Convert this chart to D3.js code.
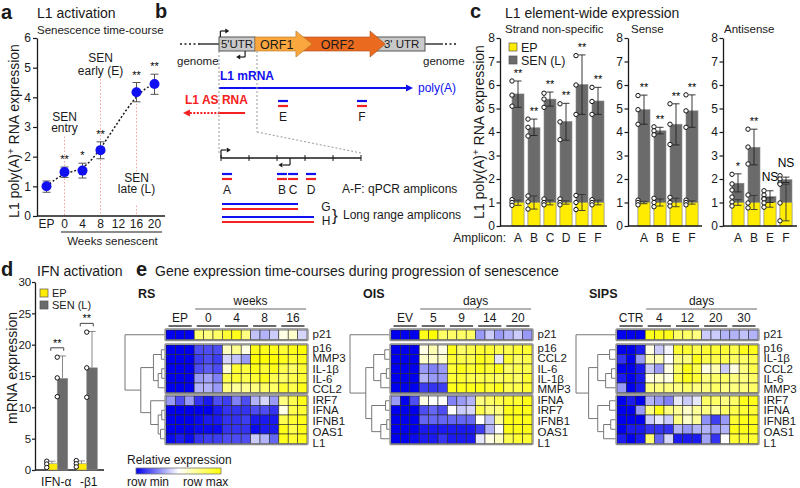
<!DOCTYPE html>
<html><head><meta charset="utf-8">
<script src="https://cdn.jsdelivr.net/npm/d3@7"></script>
<style>body{margin:0;background:#fff;}</style>
</head><body>
<script>
// ================= DATA =================
// Panel a
const aCats = ["EP","0","4","8","12","16","20"];
const aPointCats = ["EP","0","4","8","16","20"];
const aMeans = [1.00,1.48,1.53,2.22,4.17,4.45];
const aErrLo = [0.80,1.30,1.28,1.93,3.85,4.10];
const aErrHi = [1.18,1.65,1.78,2.50,4.50,4.78];
const aSig   = ["","**","*","**","**","**"];
const aYTicks = [0,1,2,3,4,5,6];

// Panel b (schematic units: bp along L1 / along 5'UTR)
const bQpcr = ["A","B","C","D"];
const bQpcrStart = [7,400,479,607];
const bQpcrEnd   = [79,471,550,679];
const bLong = ["G","H"];
const bLongEnd = [550,664];
const bElemAmp = ["E","F"];
const bElemAmpStart = [1720,4020];
const bElemAmpEnd = [2010,4310];
const bZoomTicks = [0,200,400,600,800,1000];

// Panel c
const cSubtitles = ["Strand non-specific","Sense","Antisense"];
const cCats = [["A","B","C","D","E","F"],["A","B","E","F"],["A","B","E","F"]];
const cSenMean = [[5.62,4.18,5.40,4.45,6.02,5.32],[4.95,4.05,4.33,4.90],[1.82,3.35,1.25,1.97]];
const cSenLo = [[5.05,3.85,5.10,3.65,4.75,4.75],[4.33,3.92,3.45,4.20],[1.45,2.60,1.00,1.85]];
const cSenHi = [[6.17,4.55,5.70,5.22,7.28,5.90],[5.57,4.20,5.20,5.58],[2.22,4.12,1.50,2.08]];
const cEpLo = [[0.88,0.72,0.90,0.93,0.66,0.90],[0.95,0.85,0.82,0.93],[0.88,0.70,0.80,0.22]];
const cEpHi = [[1.10,1.28,1.10,1.07,1.34,1.10],[1.05,1.15,1.18,1.07],[1.12,1.30,1.20,1.78]];
const cSenPts = [
  [[6.17,5.57,5.10],[4.55,4.20,3.83],[5.65,5.40,5.05],[5.20,4.43,3.67],[7.25,6.00,4.75],[5.90,5.30,4.75]],
  [[5.55,4.95,4.33],[4.22,4.05,3.88],[5.20,4.33,3.47],[5.58,4.90,4.20]],
  [[2.20,1.79,1.53],[4.12,3.36,2.64],[1.50,1.32,1.17],[2.14,2.00,1.83]]];
const cEpPts = [
  [[1.12,1.00,0.88],[1.28,1.03,0.72],[1.15,1.00,0.90],[1.15,1.00,0.90],[1.30,1.00,0.70],[1.12,1.00,0.90]],
  [[1.10,1.00,0.90],[1.18,1.00,0.82],[1.22,1.00,0.85],[1.10,1.00,0.90]],
  [[1.23,1.02,0.85],[1.32,0.98,0.77],[1.15,0.98,0.80],[1.78,0.98,0.22]]];
const cSig = [["**","**","**","**","**","**"],["**","**","**","**"],["*","**","NS","NS"]];
const cYTicks = [0,1,2,3,4,5,6,7,8];

// Panel d
const dGenes = ["IFN-α","-β1"];
const dEpMean = [1.0,1.0];
const dEpHi = [1.4,1.45];
const dSenMean = [14.6,16.3];
const dSenHi = [18.2,22.1];
const dEpPts = [[1.4,0.95,0.4],[1.5,1.0,0.5]];
const dSenPts = [[18.0,14.7,11.7],[22.0,16.3,11.6]];
const dSigLevel = [19.5,23.4];
const dYTicks = [0,5,10,15,20,25,30];

// Panel e
const eNames = ["RS","OIS","SIPS"];
const eUnits = ["weeks","days","days"];
const eGroups = [["EP","0","4","8","16"],["EV","5","9","14","20"],["CTR","4","12","20","30"]];
const eRows = [
  ["p21","p16","MMP3","IL-1β","IL-6","CCL2","IRF7","IFNA","IFNB1","OAS1","L1"],
  ["p21","p16","CCL2","IL-6","IL-1β","MMP3","IFNA","IRF7","IFNB1","OAS1","L1"],
  ["p21","p16","IL-1β","CCL2","IL-6","MMP3","IRF7","IFNA","IFNB1","OAS1","L1"]];
const eVals = [
 [ // RS
  [0,0,0, .78,.75,.8, .9,.95,.75, .38,.35,.4, .55,.6,.42],
  [0,0,0, .15,.15,.15, .62,.72,.55, .95,.95,.95, .9,.95,1],
  [0,0,0, .12,.15,.12, .42,.38,.3, 1,1,1, .95,.9,.95],
  [0,0,0, .15,.18,.15, .58,.9,.88, .95,.9,.95, .85,.8,.9],
  [0,0,0, .3,.32,.25, .85,.9,.85, .9,.95,.85, .8,.85,.9],
  [0,0,0, .35,.35,.3, .75,.7,.72, .75,.8,.8, .9,.85,.95],
  [.3,.15,.3, .1,.05,.15, .12,.25,.15, .35,.42,.3, .75,.85,.95],
  [0,0,0, 0,0,.05, .1,.1,.1, .15,.15,.1, .55,.85,.9],
  [0,0,0, .02,.05,.05, .1,.1,.12, .05,.05,.05, .85,.9,.95],
  [0,0,0, .02,.02,.02, .1,.1,.1, .02,.05,.05, .95,.85,.95],
  [.02,.05,.02, .1,.12,.12, .15,.15,.15, .4,.35,.2, .95,.9,.95]],
 [ // OIS
  [0,0,0, .95,1,.8, .8,.8,.8, .3,.4,.3, .35,.4,.3],
  [0,0,0, .55,.65,.55, .95,.8,.85, .9,.9,.85, .85,.9,.9],
  [0,0,0, .6,.6,.6, .9,.85,.85, .95,.9,.45, .9,.8,.85],
  [0,0,0, .3,.25,.3, .9,.95,.9, .95,.9,.95, .8,.85,.85],
  [0,0,0, .35,.3,.3, .9,.9,.85, .85,.85,.8, .85,.8,.9],
  [0,0,0, .12,.1,.12, .95,.95,.95, .95,.9,.95, .85,.85,.9],
  [.3,0,.15, .55,.5,.5, .25,.3,.35, .75,.8,.85, .9,.9,.95],
  [0,0,0, .15,.2,.15, .5,.4,.42, .85,.75,.75, .95,.95,.95],
  [0,0,0, .2,.2,.2, .2,.2,.2, .5,.38,.7, .95,.95,.95],
  [0,0,0, .05,.05,.05, .05,.05,.05, .12,.35,.5, .95,.95,.95],
  [0,0,.02, .05,.05,.1, .05,.05,.05, .45,.55,.62, .85,.9,.9]],
 [ // SIPS
  [0,0,0, .95,.95,.95, .8,.8,.75, .4,.4,.35, .35,.38,.35],
  [0,0,.05, .55,.4,.48, .9,.9,.85, .9,.9,.9, .85,.95,.95],
  [.1,0,.3, .65,.65,.5, .75,.75,.95, .85,.85,.85, .8,.8,.85],
  [0,0,.05, .4,.3,.55, .8,.95,.85, .55,.65,.4, .55,.75,.85],
  [.05,0,.05, .55,.6,.55, .85,.95,.9, .75,.8,.8, .75,.75,.8],
  [.3,0,.05, .75,.75,.75, .75,.8,.75, .75,.8,.75, .75,.75,.8],
  [0,.05,0, .35,.3,.25, .45,.4,.45, .8,.8,.75, .8,.95,.95],
  [0,0,.3, .75,.95,.75, .7,.6,.7, .75,.7,.8, .85,.9,.9],
  [0,0,0, .4,.45,.4, .75,.6,.7, .28,.12,.3, .9,.95,.95],
  [0,.05,.05, .1,.1,.1, .35,.3,.35, .35,.3,.35, .95,.95,.95],
  [.05,0,.05, .78,.2,.42, .05,.05,.05, .32,.1,.5, .9,.9,.9]]];
// dendrograms: [height, left, right]; leaves are gene names
const N = (h,a,b)=>({h:h,c:[a,b]});
const eTrees = [
  N(1,"p21",N(0.6, N(0.28,N(0.08,"p16","MMP3"),N(0.16,N(0.07,"IL-1β","IL-6"),"CCL2")),
                   N(0.35,"IRF7",N(0.16,N(0.07,"IFNA","IFNB1"),N(0.1,"OAS1","L1"))))),
  N(1,"p21",N(0.6, N(0.4,N(0.12,"p16","CCL2"),N(0.22,N(0.08,"IL-6","IL-1β"),"MMP3")),
                   N(0.45,N(0.1,"IFNA","IRF7"),N(0.22,N(0.07,"IFNB1","OAS1"),"L1")))),
  N(1,"p21",N(0.68,N(0.45,N(0.15,"p16","IL-1β"),N(0.25,N(0.1,"CCL2","IL-6"),"MMP3")),
                   N(0.45,N(0.15,"IRF7","IFNA"),N(0.3,N(0.12,"IFNB1","OAS1"),"L1"))))];

// ================= DRAW =================
const FONT = '"Liberation Sans", Arial, Helvetica, sans-serif';
const INK = "#1a1a1a";
const YEL = "#ffec00", GRY = "#6b6b6b", BLUE = "#1010f0", RED = "#f52020";
const svg = d3.select("body").append("svg").attr("width",800).attr("height",488)
  .style("font-family",FONT).style("display","block");
svg.append("rect").attr("width",800).attr("height",488).attr("fill","#fff");

function T(g,x,y,s,size,o={}){
  const t=g.append("text").attr("x",x).attr("y",y).text(s).attr("font-size",size)
    .attr("fill",o.fill||INK).attr("text-anchor",o.anchor||"start");
  if(o.weight) t.attr("font-weight",o.weight);
  return t;
}
function L(g,x1,y1,x2,y2,stroke,w,dash){
  const l=g.append("line").attr("x1",x1).attr("y1",y1).attr("x2",x2).attr("y2",y2)
    .attr("stroke",stroke||INK).attr("stroke-width",w||1);
  if(dash) l.attr("stroke-dasharray",dash);
  return l;
}
function yLabel(g,x,y,pre,sup,post,size){
  const t=g.append("text").attr("transform",`translate(${x},${y}) rotate(-90)`)
    .attr("text-anchor","middle").attr("font-size",size).attr("fill",INK);
  t.append("tspan").text(pre);
  if(sup){ t.append("tspan").text(sup).attr("dy",-5).attr("font-size",size*0.7);
           t.append("tspan").text(post).attr("dy",5); }
}
function errBar(g,x,y1,y2,hw,col,w){
  L(g,x,y1,x,y2,col,w); L(g,x-hw,y1,x+hw,y1,col,w); L(g,x-hw,y2,x+hw,y2,col,w);
}
function styleAxis(ax){
  ax.select(".domain").attr("stroke",INK).attr("stroke-width",1.3);
  ax.selectAll(".tick line").attr("stroke",INK).attr("stroke-width",1.2);
  ax.selectAll(".tick text").attr("fill",INK).style("font-family",FONT);
}
[["a",1,19],["b",155,18],["c",470,18],["d",1,276],["e",136,276]].forEach(p=>T(svg,p[1],p[2],p[0],20,{weight:"bold"}));

// ---------- Panel a ----------
{
const g = svg.append("g");
const x = d3.scalePoint().domain(aCats).range([46.5,154.5]);
const y = d3.scaleLinear().domain([0,6]).range([216,38]);
T(g,37,18,"L1 activation",14);
T(g,37,34,"Senescence time-course",11.5);
const pink="#f3a0a0";
L(g,x("0"),y(2.68),x("0"),y(0),pink,1,"1.5,2");
L(g,x("8"),y(4.62),x("8"),y(0),pink,1,"1.5,2");
L(g,x("16"),y(3.9),x("16"),y(1.5),pink,1,"1.5,2");
L(g,x("16"),y(0.35),x("16"),y(0),pink,1,"1.5,2");
T(g,x("0"),y(3.2),"SEN",12,{anchor:"middle"});
T(g,x("0"),y(2.83),"entry",12,{anchor:"middle"});
T(g,x("8"),y(5.2),"SEN",12,{anchor:"middle"});
T(g,x("8"),y(4.76),"early (E)",12,{anchor:"middle"});
T(g,x("16"),y(1.15),"SEN",12,{anchor:"middle"});
T(g,x("16"),y(0.78),"late (L)",12,{anchor:"middle"});
const ax = g.append("g").attr("transform","translate(37,0)")
  .call(d3.axisLeft(y).tickValues(aYTicks).tickSize(4).tickSizeOuter(0).tickPadding(2).tickFormat(d3.format("d")));
ax.selectAll("text").attr("font-size",12);
styleAxis(ax);
L(g,37,y(0),165,y(0),INK,1.3);
aCats.forEach(c=>T(g,x(c),228,c,12,{anchor:"middle"}));
L(g,61,232,162,232,INK,1.2);
T(g,112.5,245,"Weeks senescent",11.5,{anchor:"middle"});
yLabel(g,19,131,"L1 poly(A)","+"," RNA expression",14);
const pts = aPointCats.map((c,i)=>[x(c),y(aMeans[i])]);
g.append("path").attr("d",d3.line().curve(d3.curveBasis)(pts)).attr("fill","none")
  .attr("stroke",INK).attr("stroke-width",1.5).attr("stroke-dasharray","2,2");
aPointCats.forEach((c,i)=>{
  errBar(g,x(c),y(aErrLo[i]),y(aErrHi[i]),4,"#555",1);
  g.append("circle").attr("cx",x(c)).attr("cy",y(aMeans[i])).attr("r",5).attr("fill",BLUE);
  if(aSig[i]) T(g,x(c),y(aErrHi[i])-4,aSig[i],11,{anchor:"middle",fill:"#000"});
});
}

// ---------- Panel b ----------
{
const g = svg.append("g");
const el = d3.scaleLinear().domain([0,6000]).range([219,425]);
const zm = d3.scaleLinear().domain([0,1000]).range([221,361]);
const gy = 44;
function arrowPoly(x0,hx,tip,cy,bh,hh){
  return [[x0,cy-bh],[hx,cy-bh],[hx,cy-hh],[tip,cy],[hx,cy+hh],[hx,cy+bh],[x0,cy+bh]].map(p=>p.join(",")).join(" ");
}
function head(x,y,dir,col,len,hw){
  g.append("polygon").attr("points",[[x,y],[x-dir*len,y-hw],[x-dir*len,y+hw]].map(p=>p.join(",")).join(" ")).attr("fill",col);
}
L(g,180,gy,200,gy,INK,1.3,"2,2.5"); L(g,200,gy,el(0),gy,INK,1.3);
L(g,el(6000),gy,443,gy,INK,1.3); L(g,445,gy,456,gy,INK,1.3,"2,2.5");
T(g,177,65,"genome",11.5); T(g,423,65,"genome",11.5);
g.append("rect").attr("x",el(0)).attr("y",gy-7).attr("width",el(1050)-el(0)).attr("height",14).attr("fill","#c9c9c9").attr("stroke","#555");
g.append("rect").attr("x",el(4550)).attr("y",gy-7).attr("width",el(6000)-el(4550)).attr("height",14).attr("fill","#c9c9c9").attr("stroke","#555");
g.append("polygon").attr("points",arrowPoly(el(2240),el(4400),el(4840),gy,7,13)).attr("fill","#ea6a1f").attr("stroke","#a84a12").attr("stroke-width",0.6);
g.append("polygon").attr("points",arrowPoly(el(1050),el(2240),el(2710),gy,7,13)).attr("fill","#f9a73e").attr("stroke","#b57420").attr("stroke-width",0.6);
T(g,(el(0)+el(1050))/2,gy+4,"5'UTR",11.5,{anchor:"middle"});
T(g,el(1680),gy+4.5,"ORF1",12.5,{anchor:"middle"});
T(g,el(3450),gy+4.5,"ORF2",12.5,{anchor:"middle"});
T(g,el(5320),gy+4,"3' UTR",11.5,{anchor:"middle"});
L(g,el(40),gy-7,el(40),31,INK,1.2); L(g,el(40),31,el(220),31,INK,1.2); head(el(300),31,1,INK,4,2.5);
L(g,el(760),gy+7,el(760),57,INK,1.2); L(g,el(760),57,el(580),57,INK,1.2); head(el(500),57,-1,INK,4,2.5);
T(g,220,80,"L1 mRNA",12,{weight:"bold",fill:BLUE});
L(g,el(0),88,el(5500),88,BLUE,2); head(el(5650),88,1,BLUE,7,3.5);
T(g,418,92,"poly(A)",12,{fill:BLUE});
T(g,185,104,"L1 AS RNA",12,{weight:"bold",fill:RED});
L(g,el(0),113,el(760),113,RED,2); L(g,el(-850),113,el(0),113,RED,2,"2,1.5"); head(el(-1050),113,-1,RED,7,3.5);
bElemAmp.forEach((n,i)=>{
  L(g,el(bElemAmpStart[i]),101,el(bElemAmpEnd[i]),101,BLUE,2.2);
  L(g,el(bElemAmpStart[i]),106,el(bElemAmpEnd[i]),106,RED,2.2);
  T(g,(el(bElemAmpStart[i])+el(bElemAmpEnd[i]))/2,121,n,12,{anchor:"middle"});
});
L(g,el(0),gy+7,el(0),154,"#999",1,"2,2");
L(g,el(1107),gy+7,el(1107),132,"#999",1,"2,2");
L(g,el(1107),132,zm(1000),153,"#999",1,"2,2");
L(g,zm(0),158,zm(1000),158,INK,1.3);
bZoomTicks.forEach(t=>L(g,zm(t),155,zm(t),161,INK,1));
L(g,zm(0),158,zm(0),150,INK,1.2); L(g,zm(0),150,zm(40),150,INK,1.2); head(zm(70),150,1,INK,4,2.5);
L(g,zm(493),158,zm(493),165,INK,1.2); L(g,zm(493),165,zm(440),165,INK,1.2); head(zm(410),165,-1,INK,4,2.5);
bQpcr.forEach((n,i)=>{
  L(g,zm(bQpcrStart[i]),174,zm(bQpcrEnd[i]),174,BLUE,2.2);
  L(g,zm(bQpcrStart[i]),179,zm(bQpcrEnd[i]),179,RED,2.2);
  T(g,(zm(bQpcrStart[i])+zm(bQpcrEnd[i]))/2,194,n,12,{anchor:"middle"});
});
T(g,342,193,"A-F: qPCR amplicons",12);
bLong.forEach((n,i)=>{
  const y0 = 204+i*13;
  L(g,zm(7),y0,zm(bLongEnd[i]),y0,BLUE,2.2);
  L(g,zm(7),y0+5,zm(bLongEnd[i]),y0+5,RED,2.2);
  T(g,326,211+i*13.5,n,12,{anchor:"middle"});
});
T(g,332,221,"}",17);
T(g,343,219,"Long range amplicons",12);
}

// ---------- Panel c ----------
{
const g = svg.append("g");
const y = d3.scaleLinear().domain([0,8]).range([226,38]);
const axX = [500,628,723], band=[[510,606],[636,700],[730,794]], baseEnd=[607,702,797];
const subX = [505,631,724];
T(g,505,18,"L1 element-wide expression",14);
yLabel(g,484,132,"L1 poly(A)","+"," RNA expression",14);
cSubtitles.forEach((s,k)=>{
  T(g,subX[k],33,s,11.5);
  const x = d3.scaleBand().domain(cCats[k]).range(band[k]).paddingInner(0.25).paddingOuter(0.125);
  const ax = g.append("g").attr("transform",`translate(${axX[k]},0)`)
    .call(d3.axisLeft(y).tickValues(cYTicks).tickSize(3.5).tickSizeOuter(0).tickPadding(1.5));
  ax.selectAll("text").attr("font-size",12);
  styleAxis(ax);
  cCats[k].forEach((c,i)=>{
    const bx = x(c), bw = x.bandwidth(), cx = bx+bw/2;
    g.append("rect").attr("x",bx).attr("y",y(cSenMean[k][i])).attr("width",bw).attr("height",y(0)-y(cSenMean[k][i]))
      .attr("fill",GRY).attr("stroke","#8c8c8c").attr("stroke-width",0.6);
    g.append("rect").attr("x",bx).attr("y",y(1)).attr("width",bw).attr("height",y(0)-y(1))
      .attr("fill",YEL).attr("stroke","#9a9a7a").attr("stroke-width",0.6);
    errBar(g,cx,y(cSenLo[k][i]),y(cSenHi[k][i]),3.5,"#222",0.9);
    errBar(g,cx,y(cEpLo[k][i]),y(cEpHi[k][i]),3.5,"#333",0.9);
    cSenPts[k][i].concat(cEpPts[k][i]).forEach(v=>g.append("circle").attr("cx",bx).attr("cy",y(v)).attr("r",2.2)
      .attr("fill","#fff").attr("stroke","#111").attr("stroke-width",1));
    const s = cSig[k][i];
    if(s==="NS") T(g,cx,y(cSenHi[k][i])-10,s,12,{anchor:"middle",fill:"#000"});
    else T(g,cx,y(cSenHi[k][i])-4,s,11,{anchor:"middle",fill:"#000"});
    T(g,cx,242,c,12,{anchor:"middle"});
  });
  L(g,axX[k],y(0),baseEnd[k],y(0),INK,1.3);
});
T(g,506,242,"Amplicon:",12,{anchor:"end"});
g.append("rect").attr("x",509).attr("y",43).attr("width",8).attr("height",8).attr("fill",YEL).attr("stroke","#555").attr("stroke-width",0.7);
g.append("rect").attr("x",509).attr("y",56).attr("width",8).attr("height",8).attr("fill",GRY).attr("stroke","#555").attr("stroke-width",0.7);
T(g,521,52,"EP",12.5); T(g,521,65,"SEN (L)",12.5);
}

// ---------- Panel d ----------
{
const g = svg.append("g");
const y = d3.scaleLinear().domain([0,30]).range([470,282]);
const xg = d3.scaleBand().domain(dGenes).range([41,103]).paddingInner(0.0).paddingOuter(0.05);
T(g,37,276,"IFN activation",14);
yLabel(g,17,368,"mRNA expression",null,null,14);
const ax = g.append("g").attr("transform","translate(35,0)")
  .call(d3.axisLeft(y).tickValues(dYTicks).tickSize(3).tickSizeOuter(0).tickPadding(0.8));
ax.selectAll("text").attr("font-size",11.5);
styleAxis(ax);
L(g,35,y(0),104,y(0),INK,1.3);
dGenes.forEach((gn,i)=>{
  const bw = 10.5, c = xg(gn)+xg.bandwidth()/2;
  const ex = c-bw, sx = c;
  g.append("rect").attr("x",sx).attr("y",y(dSenMean[i])).attr("width",bw).attr("height",y(0)-y(dSenMean[i])).attr("fill",GRY).attr("stroke","#8c8c8c").attr("stroke-width",0.6);
  L(g,sx+bw/2,y(dSenMean[i]),sx+bw/2,y(dSenHi[i]),"#888",1); L(g,sx+bw/2-3.5,y(dSenHi[i]),sx+bw/2+3.5,y(dSenHi[i]),"#888",1);
  g.append("rect").attr("x",ex).attr("y",y(dEpMean[i])).attr("width",bw).attr("height",y(0)-y(dEpMean[i])).attr("fill",YEL).attr("stroke","#9a9a7a").attr("stroke-width",0.6);
  L(g,ex+bw/2,y(dEpMean[i]),ex+bw/2,y(dEpHi[i]),"#888",1); L(g,ex+bw/2-3.5,y(dEpHi[i]),ex+bw/2+3.5,y(dEpHi[i]),"#888",1);
  dEpPts[i].forEach(v=>g.append("circle").attr("cx",ex).attr("cy",y(v)).attr("r",2.2).attr("fill","#fff").attr("stroke","#111"));
  dSenPts[i].forEach(v=>g.append("circle").attr("cx",sx).attr("cy",y(v)).attr("r",2.2).attr("fill","#fff").attr("stroke","#111"));
  const by = y(dSigLevel[i]);
  L(g,ex+4,by,sx+bw-4,by,"#444",1); L(g,ex+4,by,ex+4,by+3,"#444",1); L(g,sx+bw-4,by,sx+bw-4,by+3,"#444",1);
  T(g,c,by-1,"**",11,{anchor:"middle",fill:"#000"});
  T(g,c+(i===0?-1:2),486,gn,12,{anchor:"middle"});
});
g.append("rect").attr("x",40).attr("y",289).attr("width",8).attr("height",8).attr("fill",YEL).attr("stroke","#555").attr("stroke-width",0.7);
g.append("rect").attr("x",40).attr("y",301).attr("width",8).attr("height",8).attr("fill",GRY).attr("stroke","#555").attr("stroke-width",0.7);
T(g,52,297,"EP",11); T(g,52,309,"SEN (L)",11);
}

// ---------- Panel e ----------
{
const g = svg.append("g");
T(g,155,276,"Gene expression time-courses during progression of senescence",14);
const color = d3.scaleLinear().domain([0,0.5,1]).range(["#0000ee","#ffffff","#ffff00"]);
const lefts = [166,391,617], nameX = [138,363,589];
const blockTops = [330,345,396], cellH = 9.5, width = 141;
const blockOf = i => i===0?0:(i<=5?1:2);
const rowIdx = i => i===0?0:(i<=5?i-1:i-6);
eNames.forEach((nm,k)=>{
  const left = lefts[k];
  const x = d3.scaleBand().domain(d3.range(15)).range([left,left+width]);
  const cw = x.bandwidth();
  T(g,nameX[k],298,nm,12.5,{weight:"bold"});
  T(g,(x(3)+left+width)/2,305,eUnits[k],12,{anchor:"middle"});
  L(g,x(3)+1,309,left+width-1,309,"#999",1.3);
  eGroups[k].forEach((gr,j)=>{
    T(g,x(3*j)+1.5*cw,322,gr,12,{anchor:"middle"});
    L(g,x(3*j)+2.5,326,x(3*j)+3*cw-2.5,326,INK,1.3);
  });
  const rowCenter = {};
  eRows[k].forEach((r,i)=>{
    const yt = blockTops[blockOf(i)] + rowIdx(i)*cellH;
    rowCenter[r] = yt + cellH/2;
    eVals[k][i].forEach((v,c)=>{
      g.append("rect").attr("x",x(c)).attr("y",yt).attr("width",cw).attr("height",cellH)
        .attr("fill",color(v)).attr("stroke","#2a2a2a").attr("stroke-width",0.6);
    });
  });
  [[0,1],[1,5],[2,5]].forEach(([b,n])=>{
    g.append("rect").attr("x",left-1).attr("y",blockTops[b]-1).attr("width",width+2).attr("height",n*cellH+2)
      .attr("fill","none").attr("stroke","#8a8a8a").attr("stroke-width",1.3).attr("rx",1);
  });
  eRows[k].forEach((r,i)=>{
    const b = blockOf(i);
    let yc;
    if(b===0) yc = rowCenter[r]-0.5;
    else if(b===1) yc = 368.5 + (rowIdx(i)-2)*10.2;
    else yc = 421 + (rowIdx(i)-2)*10.8;
    T(g,left+width+5.5,yc+4.1,r,11.5);
  });
  const dx = d3.scaleLinear().domain([0,1]).range([left-1.5,left-41]);
  (function pos(n){
    if(typeof n==="string") return {x:left-1.5,y:rowCenter[n]};
    const cs = n.c.map(pos);
    const xx = dx(n.h), yy = d3.mean(cs,d=>d.y);
    L(g,xx,d3.min(cs,d=>d.y),xx,d3.max(cs,d=>d.y),"#777",1);
    cs.forEach(c=>L(g,xx,c.y,c.x,c.y,"#777",1));
    return {x:xx,y:yy};
  })(eTrees[k]);
});
const grad = svg.append("defs").append("linearGradient").attr("id","relexp");
[[0,"#0000ee"],[0.5,"#ffffff"],[1,"#ffff00"]].forEach(s=>grad.append("stop").attr("offset",s[0]).attr("stop-color",s[1]));
T(g,127,464,"Relative expression",12);
g.append("rect").attr("x",136).attr("y",468).attr("width",85).attr("height",6).attr("fill","url(#relexp)").attr("stroke","#777").attr("stroke-width",0.8);
T(g,127,486,"row min",12); T(g,183,486,"row max",12);
}
</script>
</body></html>
